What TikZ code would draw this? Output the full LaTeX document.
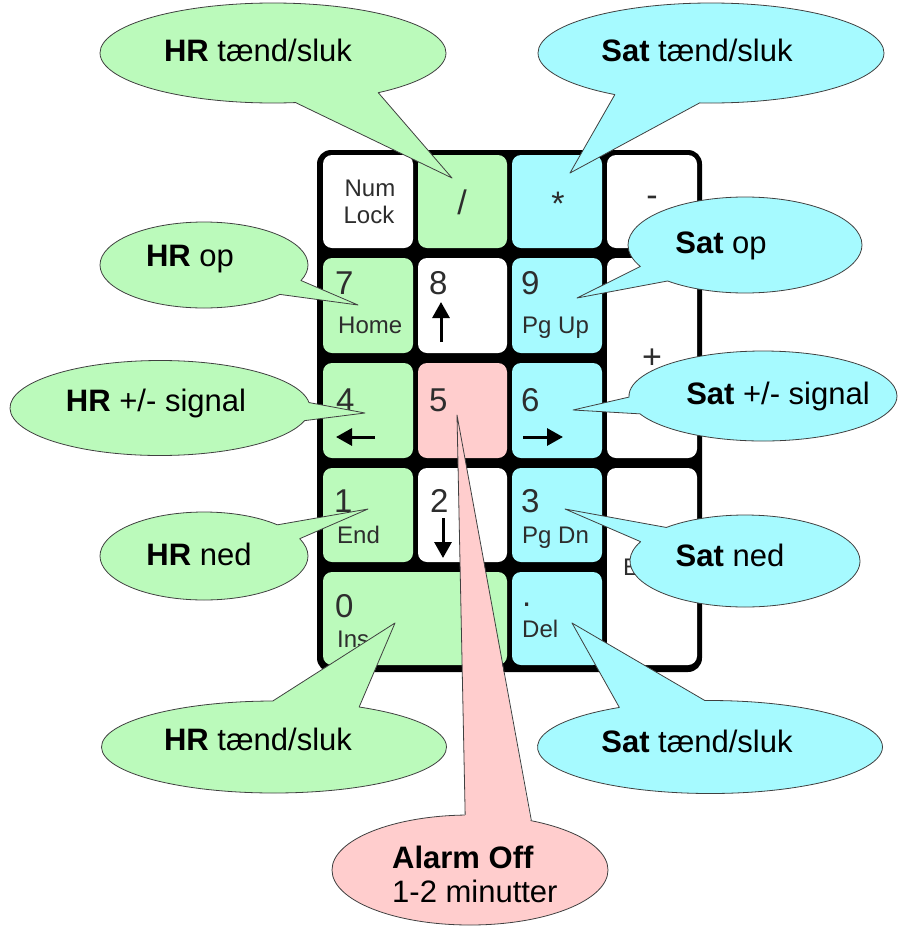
\documentclass[tikz,border=0pt]{standalone}
\usepackage{fontspec}
\setmainfont{Liberation Sans}
\usetikzlibrary{shapes.callouts,shapes.geometric,arrows.meta}
\definecolor{hrgreen}{RGB}{187,250,187}
\definecolor{satcyan}{RGB}{166,250,255}
\definecolor{alarmpink}{RGB}{255,205,205}
\definecolor{keytext}{RGB}{45,45,45}
\begin{document}
\begin{tikzpicture}[x=1pt, y=-1pt, line join=round, line cap=round,
    key/.style={rounded corners=9pt, inner sep=0pt},
    num/.style={text=keytext, font=\fontsize{33}{33}\selectfont, anchor=base west, inner sep=0pt},
    sub/.style={text=keytext, font=\fontsize{24}{24}\selectfont, anchor=base west, inner sep=0pt},
    sym/.style={text=keytext, font=\fontsize{34}{34}\selectfont, anchor=base, inner sep=0pt},
    keyarrow/.style={draw=black, line width=3pt, line cap=butt, -{Triangle[length=16pt,width=17pt]}},
    edge/.style={draw=black!75, line width=0.8pt},
    bubble/.style={ellipse callout, edge, inner sep=0pt, callout pointer arc=22},
    say/.style={font=\fontsize{31}{34}\selectfont, inner sep=0pt},
    hr/.style={bubble, fill=hrgreen},
    sat/.style={bubble, fill=satcyan}]
\useasboundingbox (0,0) rectangle (922,927);
% keypad frame and keys
\fill[rounded corners=14pt] (317,150) rectangle (702,672);
\foreach \n/\x/\y/\w/\h/\c in {numlock/368/201.5/90/93/white, slash/462.5/201.5/89/93/hrgreen,
    star/557/201.5/90/93/satcyan, minus/652/201.5/90/93/white,
    k7/368/305.5/90/95/hrgreen, k8/462.5/305.5/89/95/white, k9/557/305.5/90/95/satcyan,
    plus/652/358/90/200/white,
    k4/368/410.5/90/95/hrgreen, k5/462.5/410.5/89/95/alarmpink, k6/557/410.5/90/95/satcyan,
    k1/368/515/90/94/hrgreen, k2/462.5/515/89/94/white, k3/557/515/90/94/satcyan,
    enter/652/566.5/90/197/white,
    k0/415/618.5/184/93/hrgreen, del/557/618.5/90/93/satcyan}
    \node[key, fill=\c, minimum width=\w pt, minimum height=\h pt] (\n) at (\x,\y) {};
% key labels
\node[sub, anchor=base] (lnum) at (370,196) {Num};
\node[sub, anchor=base] (llock) at (369,223) {Lock};
\node[sym] (lslash) at (462,214) {/};
\node[sym] (lstar) at (558,215) {*};
\node[sym] (lminus) at (652,206) {-};
\node[sym] (lplus) at (652,368) {+};
\foreach \n/\x/\y in {7/335/294, 8/429/294, 9/521/294, 4/336/411, 5/429/411, 6/521/411,
    1/334/512, 2/430/512, 3/521/512, 0/335/617}
    \node[num] (d\n) at (\x,\y) {\n};
\node[num] (ddot) at (522,606) {.};
\foreach \n/\x/\y/\t in {home/338/333/Home, pgup/522/333/Pg Up, end/337/543/End,
    pgdn/522/543/Pg Dn, ins/337/647/Ins, del/522/637/Del, enter/623/575/Enter}
    \node[sub] (s\n) at (\x,\y) {\t};
\draw[keyarrow] (441,342) -- (441,302);
\draw[keyarrow] (443,518) -- (443,558);
\draw[keyarrow] (375,437) -- (336,437);
\draw[keyarrow] (523,437) -- (563,437);
% pointer tips
\coordinate (pslash) at (452,178);
\coordinate (pstar) at (570,173);
\coordinate (p7) at (358,305);
\coordinate (p4) at (365,413);
\coordinate (p1) at (368,509);
\coordinate (p0) at (395,623);
\coordinate (p9) at (577,298);
\coordinate (p6) at (573,410);
\coordinate (p3) at (565,509);
\coordinate (pdel) at (572,623);
\coordinate (p5) at (457,415);
% HR bubbles
\node[hr, minimum width=346pt, minimum height=100pt, callout pointer arc=30, callout absolute pointer={(pslash)}] (hrtop) at (273,53) {};
\node[hr, minimum width=208pt, minimum height=86pt, callout absolute pointer={(p7)}] (hrop) at (204,265) {};
\node[hr, minimum width=300pt, minimum height=95pt, callout absolute pointer={(p4)}] (hrsig) at (160,408) {};
\node[hr, minimum width=208pt, minimum height=88pt, callout absolute pointer={(p1)}] (hrned) at (204,556) {};
\node[hr, minimum width=345pt, minimum height=92pt, callout pointer arc=30, callout absolute pointer={(p0)}] (hrbot) at (274,747) {};
\node[say] (thrtop) at (258,50) {\textbf{HR} tænd/sluk};
\node[say] (throp) at (190,259) {\textbf{HR} op};
\node[say] (thrsig) at (156,403) {\textbf{HR} +/- signal};
\node[say] (thrned) at (199,554) {\textbf{HR} ned};
\node[say] (thrbot) at (258,739) {\textbf{HR} tænd/sluk};
% Sat bubbles
\node[sat, minimum width=346pt, minimum height=100pt, callout pointer arc=30, callout absolute pointer={(pstar)}] (sattop) at (711,53) {};
\node[sat, minimum width=234pt, minimum height=96pt, callout absolute pointer={(p9)}] (satop) at (745,245) {};
\node[sat, minimum width=268pt, minimum height=90pt, callout absolute pointer={(p6)}] (satsig) at (763,396) {};
\node[sat, minimum width=230pt, minimum height=92pt, callout absolute pointer={(p3)}] (satned) at (745,561) {};
\node[sat, minimum width=345pt, minimum height=93pt, callout pointer arc=30, callout absolute pointer={(pdel)}] (satbot) at (710,747) {};
\node[say] (tsattop) at (697,50) {\textbf{Sat} tænd/sluk};
\node[say] (tsatop) at (721,246) {\textbf{Sat} op};
\node[say] (tsatsig) at (778,396) {\textbf{Sat} +/- signal};
\node[say] (tsatned) at (730,555) {\textbf{Sat} ned};
\node[say] (tsatbot) at (697,741) {\textbf{Sat} tænd/sluk};
% alarm bubble, tail leaning to the right
\node[ellipse, edge, fill=alarmpink, inner sep=0pt, minimum width=276pt, minimum height=110pt] (alarm) at (470,870) {};
\fill[alarmpink] (p5) -- ([yshift=-3pt]alarm.95) -- ([yshift=-4pt]alarm.39.5) -- cycle;
\draw[edge] (alarm.95) -- (p5) -- (alarm.39.5);
\node[say, align=left, anchor=north west] (talarm) at (392,846) {\textbf{Alarm Off}\\1-2 minutter};
\end{tikzpicture}
\end{document}
